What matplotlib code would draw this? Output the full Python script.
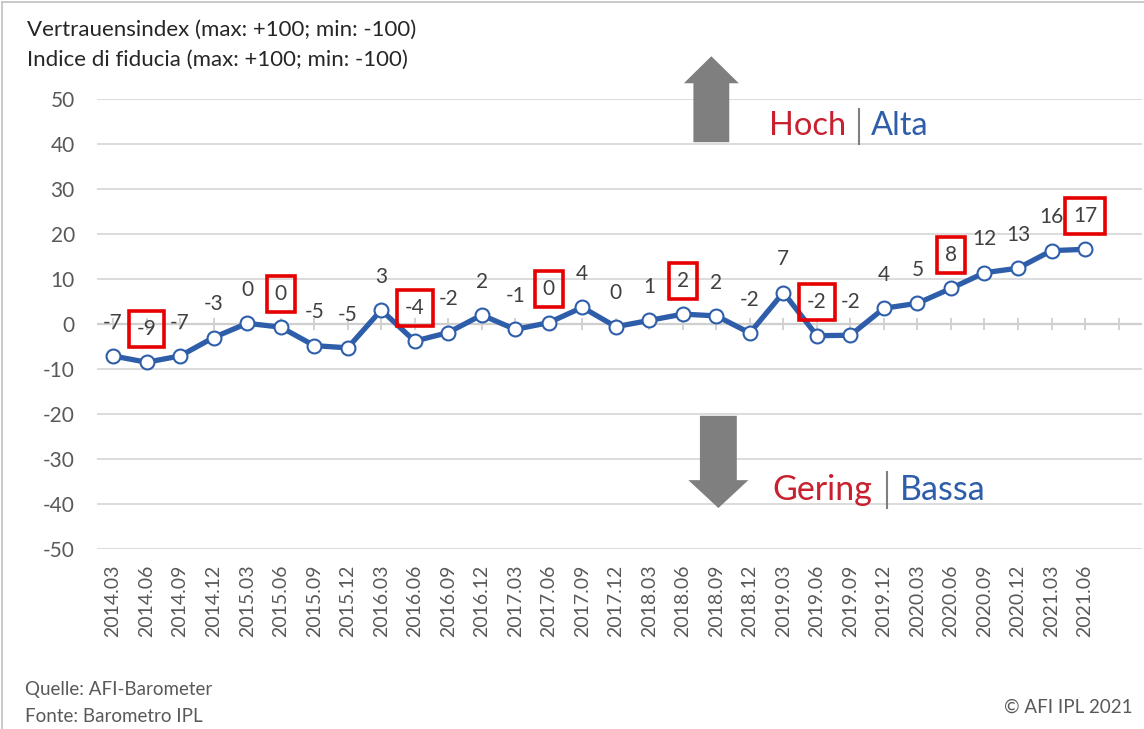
import matplotlib
matplotlib.use('Agg')
import matplotlib.pyplot as plt
from matplotlib.patches import FancyArrow
from matplotlib.lines import Line2D

plt.rcParams['font.family'] = ['Lato', 'DejaVu Sans']
plt.rcParams['axes.unicode_minus'] = False

# ── colours ──
BLUE = '#2E5EAA'
RED_BOX = '#E60000'
RED_TXT = '#C8202F'
GRID = '#D9D9D9'
TICK_TXT = '#595959'
LABEL_TXT = '#404040'
ARROW = '#7F7F7F'

# ── data ──
quarters = ['2014.03', '2014.06', '2014.09', '2014.12', '2015.03', '2015.06',
            '2015.09', '2015.12', '2016.03', '2016.06', '2016.09', '2016.12',
            '2017.03', '2017.06', '2017.09', '2017.12', '2018.03', '2018.06',
            '2018.09', '2018.12', '2019.03', '2019.06', '2019.09', '2019.12',
            '2020.03', '2020.06', '2020.09', '2020.12', '2021.03', '2021.06']
index_values = [-7.1, -8.5, -7.1, -3.0, 0.15, -0.7, -4.8, -5.3, 3.1, -3.8,
                -1.9, 2.0, -1.2, 0.3, 3.7, -0.6, 0.8, 2.2, 1.8, -2.0,
                7.0, -2.6, -2.5, 3.5, 4.6, 7.9, 11.4, 12.4, 16.3, 16.6]
shown_labels = [-7, -9, -7, -3, 0, 0, -5, -5, 3, -4, -2, 2, -1, 0, 4, 0, 1, 2, 2,
                -2, 7, -2, -2, 4, 5, 8, 12, 13, 16, 17]
highlighted = ['2014.06', '2015.06', '2016.06', '2017.06', '2018.06', '2019.06',
               '2020.06', '2021.06']
y_ticks = list(range(-50, 51, 10))

W, H = 1144, 729
fig = plt.figure(figsize=(W / 100, H / 100), dpi=100)
fig.patch.set_facecolor('white')
ax = fig.add_axes([97 / W, 180 / H, (1142 - 97) / W, 450 / H])

x = list(range(len(quarters)))
ax.set_xlim(-0.48, 30.7)
ax.set_ylim(-50, 50)
ax.set_yticks(y_ticks)
ax.set_yticklabels([str(t) for t in y_ticks])
ax.set_xticks(x)
ax.set_xticklabels(quarters, rotation=90)
ax.tick_params(axis='y', length=0, pad=16, labelsize=15, labelcolor=TICK_TXT)
ax.tick_params(axis='x', length=0, pad=11, labelsize=14, labelcolor=TICK_TXT)
for s in ax.spines.values():
    s.set_visible(False)
ax.grid(axis='y', color=GRID, lw=1.3, zorder=0)
ax.set_axisbelow(True)

# zero axis with tick marks
ax.axhline(0, color='#CFCFCF', lw=1.6, zorder=1)
ax.vlines(range(len(quarters) + 1), -1.3, 1.3, color='#CFCFCF', lw=1.3, zorder=1)

ax.plot(x, index_values, color=BLUE, lw=3.8, marker='o', ms=10,
        mfc='white', mec=BLUE, mew=1.5, zorder=3)

for i, (v, lab) in enumerate(zip(index_values, shown_labels)):
    kw = {}
    if quarters[i] in highlighted:
        kw['bbox'] = dict(boxstyle='square,pad=0.38', fc='none', ec=RED_BOX, lw=2.6)
    ax.annotate(str(lab), (i, v), xytext=(0, 24), textcoords='offset points',
                ha='center', va='center', fontsize=15, color=LABEL_TXT, zorder=4, **kw)

# arrows
ax.add_patch(FancyArrow(17.85, 40.4, 0, 19.1, width=1.07, head_width=1.64,
                        head_length=6.0, length_includes_head=True,
                        color=ARROW, lw=0, clip_on=False, zorder=2))
ax.add_patch(FancyArrow(18.06, -20.4, 0, -20.5, width=1.1, head_width=1.79,
                        head_length=6.2, length_includes_head=True,
                        color=ARROW, lw=0, clip_on=False, zorder=2))


def fx(px):
    return px / W


def fy(py):
    return 1 - py / H


fig.text(fx(769), fy(135), 'Hoch', color=RED_TXT, fontsize=23.5, va='baseline')
fig.text(fx(871), fy(135), 'Alta', color=BLUE, fontsize=23.5, va='baseline')
fig.add_artist(Line2D([fx(859), fx(859)], [fy(109), fy(144)], color=ARROW, lw=1.5))
fig.text(fx(772), fy(500), 'Gering', color=RED_TXT, fontsize=24.5, va='baseline')
fig.text(fx(900), fy(500), 'Bassa', color=BLUE, fontsize=24.5, va='baseline')
fig.add_artist(Line2D([fx(887), fx(887)], [fy(472), fy(508)], color=ARROW, lw=1.5))

# titles and footer
fig.text(fx(27), fy(30), 'Vertrauensindex (max: +100; min: -100)', fontsize=16,
         color='#262626', va='center')
fig.text(fx(27), fy(60), 'Indice di fiducia (max: +100; min: -100)', fontsize=16,
         color='#262626', va='center')
fig.text(fx(25), fy(689), 'Quelle: AFI-Barometer', fontsize=13.5, color=TICK_TXT, va='center')
fig.text(fx(25), fy(716), 'Fonte: Barometro IPL', fontsize=13.5, color=TICK_TXT, va='center')
fig.text(fx(1133), fy(707), '© AFI IPL 2021', fontsize=13.5, color=TICK_TXT,
         va='center', ha='right')

# thin frame on left and top
fig.add_artist(Line2D([fx(2), fx(2)], [0, fy(2)], color='#C0C0C0', lw=1.2))
fig.add_artist(Line2D([fx(2), 1], [fy(2), fy(2)], color='#C0C0C0', lw=1.2))

fig.savefig('out.png', dpi=100, facecolor='white')
